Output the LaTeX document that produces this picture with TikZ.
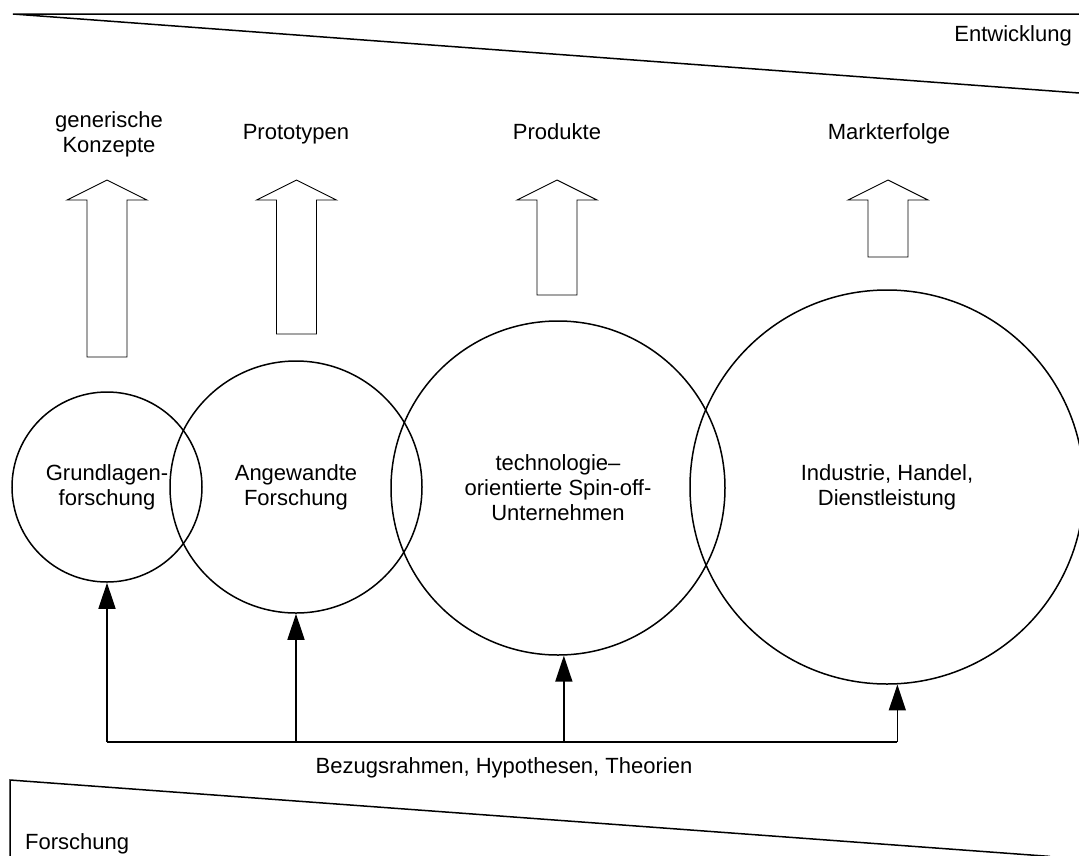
\documentclass[tikz,border=0pt]{standalone}
\usepackage{fontspec}
\setmainfont{Liberation Sans}
\usetikzlibrary{arrows.meta}
% hollow upward block arrow: centre x, bottom y
\newcommand\hollowarrow[2]{%
  \draw[hollow] (#1-20,#2) -- (#1-20,200) -- (#1-40,200) -- (#1,180)
    -- (#1+40,200) -- (#1+20,200) -- (#1+20,#2) -- cycle;}
\begin{document}
\begin{tikzpicture}[x=1pt,y=-1pt,
  every node/.style={font=\fontsize{22}{25}\selectfont},
  ring/.style={circle, draw, line width=1.5pt, inner sep=0pt, align=center},
  wedge/.style={line width=1.5pt, line join=miter},
  conn/.style={line width=1.5pt, -{Triangle[length=26pt,width=17pt]}},
  bus/.style={line width=1.5pt},
  hollow/.style={draw, line width=0.9pt, fill=white},
  toptext/.style={align=center, anchor=base, inner sep=0pt}]
\useasboundingbox (0,0) rectangle (1079,855);

% wedges: development (top) and research (bottom)
\begin{scope}
  \clip (0,0) rectangle (1079,855);
  \draw[wedge] (1090,14) -- (13,14) -- (1090,93.8);
  \draw[wedge] (10,870) -- (10,780) -- (1050,856.4);
\end{scope}
\node[anchor=base east, inner sep=0pt] (dev) at (1072,41.5) {Entwicklung};
\node[anchor=base west, inner sep=0pt] (res) at (25,849) {Forschung};

% results above each field (base = last line)
\node[toptext] (k1) at (109,152) {generische\\Konzepte};
\node[toptext] (k2) at (296,139) {Prototypen};
\node[toptext] (k3) at (557,139) {Produkte};
\node[toptext] (k4) at (889,139) {Markterfolge};

\hollowarrow{107}{357}
\hollowarrow{296.5}{334}
\hollowarrow{557}{295}
\hollowarrow{888}{257}

% fields
\node[ring, minimum size=190pt] (c1) at (107,487) {Grundlagen-\\forschung};
\node[ring, minimum size=252pt] (c2) at (296,487) {Angewandte\\Forschung};
\node[ring, minimum size=334pt] (c3) at (558,488) {technologie–\\orientierte Spin-off-\\Unternehmen};
\node[ring, minimum size=394pt] (c4) at (887,487) {Industrie, Handel,\\Dienstleistung};

% common frame feeding all fields
\coordinate (b1) at (107,742);
\coordinate (b2) at (c2.south |- b1);
\coordinate (b3) at (c3.272 |- b1);
\coordinate (b4) at (c4.273 |- b1);
\draw[bus] (b1) -- (b4);
\draw[conn] (b1) -- (c1.south);
\draw[conn] (b2) -- (c2.south);
\draw[conn] (b3) -- (c3.272);
\draw[conn] (b4) -- (c4.273);
\node (frame) at (504,768) {Bezugsrahmen, Hypothesen, Theorien};
\end{tikzpicture}
\end{document}
